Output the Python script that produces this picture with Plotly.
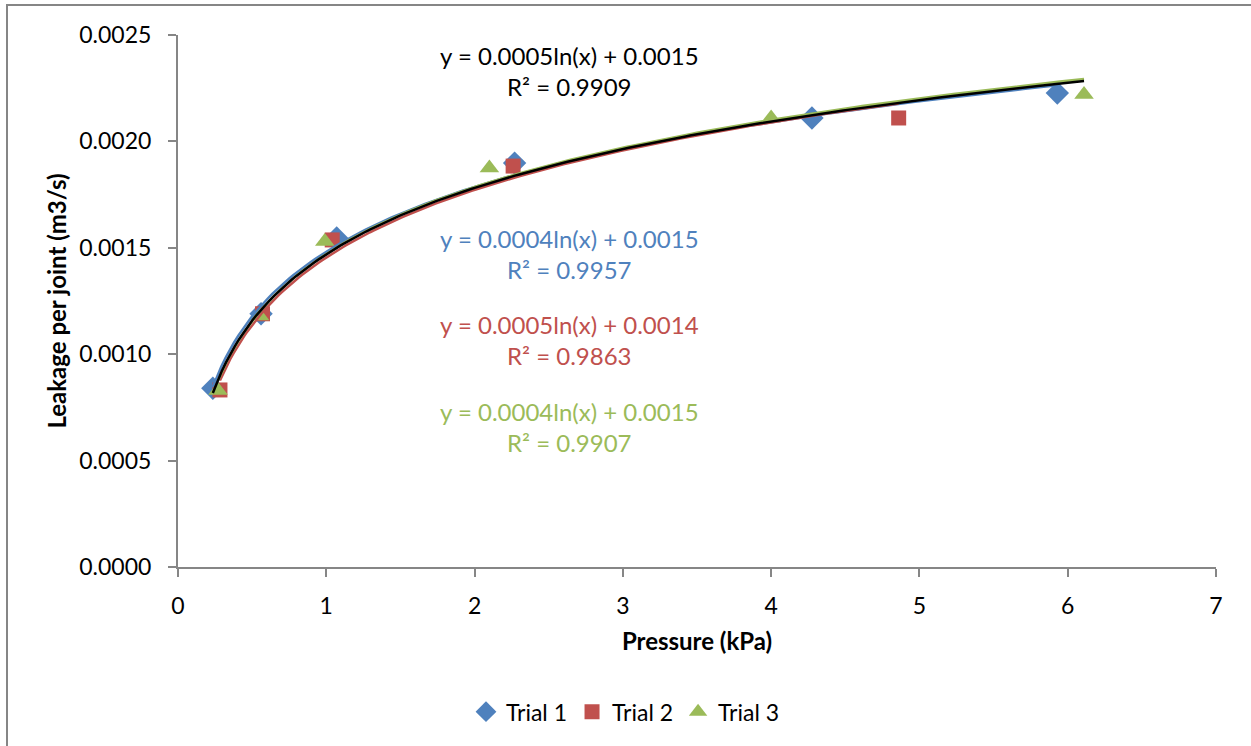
import numpy as np
import plotly.graph_objects as go

# ---- data ----
trial1_x = [0.235, 0.56, 1.07, 2.27, 4.275, 5.93]
trial1_y = [0.000840, 0.00119, 0.001546, 0.001898, 0.00211, 0.002227]
trial2_x = [0.283, 0.57, 1.04, 2.26, 4.86]
trial2_y = [0.000832, 0.00119, 0.001537, 0.001884, 0.00211]
trial3_x = [0.27, 0.55, 0.99, 2.10, 4.00, 6.11]
trial3_y = [0.00083, 0.00118, 0.00153, 0.001875, 0.00211, 0.00222]

names = ["Trial 1", "Trial 2", "Trial 3"]
colors = ["#4F81BD", "#C0504D", "#9BBB59"]
symbols = ["diamond", "square", "triangle-up"]
msizes = [18, 15, 17]

eq_texts = [
    ("y = 0.0004ln(x) + 0.0015<br>R² = 0.9957", "#4F81BD", 0.001469),
    ("y = 0.0005ln(x) + 0.0014<br>R² = 0.9863", "#C0504D", 0.001069),
    ("y = 0.0004ln(x) + 0.0015<br>R² = 0.9907", "#9BBB59", 0.000658),
]
all_text = "y = 0.0005ln(x) + 0.0015<br>R² = 0.9909"

x_ticks = [0, 1, 2, 3, 4, 5, 6, 7]
y_ticks = [0.0, 0.0005, 0.0010, 0.0015, 0.0020, 0.0025]

FONT = "Lato"
FS = 23
fig = go.Figure()

series = [(trial1_x, trial1_y), (trial2_x, trial2_y), (trial3_x, trial3_y)]
for (xs, ys), n, c, s, ms in zip(series, names, colors, symbols, msizes):
    fig.add_trace(go.Scatter(x=xs, y=ys, mode="markers", name=n,
                             marker=dict(symbol=s, size=ms, color=c, line=dict(width=0))))


def logfit(xs, ys):
    a, b = np.polyfit(np.log(xs), ys, 1)
    xx = np.linspace(min(xs), max(xs), 200)
    return xx, a * np.log(xx) + b


for (xs, ys), c in zip(series, colors):
    xx, yy = logfit(xs, ys)
    fig.add_trace(go.Scatter(x=xx, y=yy, mode="lines", line=dict(color=c, width=2.5),
                             showlegend=False, hoverinfo="skip"))

all_x = trial1_x + trial2_x + trial3_x
all_y = trial1_y + trial2_y + trial3_y
xx, yy = logfit(all_x, all_y)
fig.add_trace(go.Scatter(x=xx, y=yy, mode="lines", line=dict(color="black", width=2.5),
                         showlegend=False, hoverinfo="skip"))

annots = [dict(x=2.643, y=0.00233, text=all_text, font=dict(color="black", size=24, family=FONT))]
for t, c, yv in eq_texts:
    annots.append(dict(x=2.643, y=yv, text=t, font=dict(color=c, size=24, family=FONT)))
for a in annots:
    a.update(xref="x", yref="y", showarrow=False, align="center")

fig.update_layout(
    width=1251, height=746,
    margin=dict(l=178, r=35, t=35, b=179),
    paper_bgcolor="white", plot_bgcolor="white",
    font=dict(family=FONT, size=FS, color="black"),
    annotations=annots,
    showlegend=True,
    legend=dict(orientation="h", xref="container", yref="container", x=0.5, y=0.046,
                xanchor="center", yanchor="middle", font=dict(size=FS, family=FONT),
                itemwidth=30, tracegroupgap=0),
    shapes=[dict(type="rect", xref="paper", yref="paper",
                 x0=(7 - 178) / 1038, x1=1.05, y0=-0.4, y1=1 + (35 - 5) / 532,
                 line=dict(color="#868686", width=2), fillcolor="rgba(0,0,0,0)", layer="below")],
    xaxis=dict(range=[0, 7], tickvals=x_ticks, ticks="outside", ticklen=8, tickwidth=2,
               tickcolor="#868686", showline=True, linecolor="#868686", linewidth=2,
               showgrid=False, zeroline=False, ticklabelstandoff=9,
               tickfont=dict(size=FS, family=FONT),
               title=dict(text="<b>Pressure (kPa)</b>", font=dict(size=24, family=FONT), standoff=16)),
    yaxis=dict(range=[0, 0.0025], tickvals=y_ticks, tickformat=".4f", ticks="outside",
               ticklen=8, tickwidth=2, tickcolor="#868686", showline=True,
               linecolor="#868686", linewidth=2, showgrid=False, zeroline=False,
               ticklabelstandoff=12, tickfont=dict(size=FS, family=FONT),
               title=dict(text="<b>Leakage per joint (m3/s)</b>", font=dict(size=24, family=FONT), standoff=6)),
)

fig.write_html("out.html")
